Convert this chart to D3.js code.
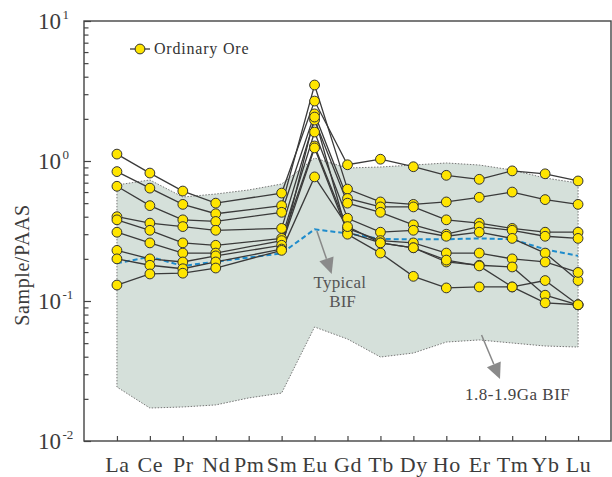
<!DOCTYPE html>
<html>
<head>
<meta charset="utf-8">
<script src="https://cdn.jsdelivr.net/npm/d3@7"></script>
<style>
  body { margin: 0; background: #fff; }
  svg { display: block; }
  svg text { font-family: "Liberation Serif", "Times New Roman", serif; }
</style>
</head>
<body>
<div id="chart"></div>
<script>
// REE on the x axis (Pm has no sample values)
const elements = ["La", "Ce", "Pr", "Nd", "Pm", "Sm", "Eu", "Gd", "Tb", "Dy", "Ho", "Er", "Tm", "Yb", "Lu"];
const sampleElements = ["La", "Ce", "Pr", "Nd", "Sm", "Eu", "Gd", "Tb", "Dy", "Ho", "Er", "Tm", "Yb", "Lu"];

// Ordinary ore, PAAS normalised
const ore1 = [1.12, 0.82, 0.61, 0.50, 0.59, 2.68, 0.94, 1.03, 0.91, 0.79, 0.74, 0.85, 0.81, 0.72];
const ore2 = [0.84, 0.64, 0.49, 0.42, 0.48, 3.49, 0.63, 0.51, 0.49, 0.51, 0.55, 0.60, 0.53, 0.49];
const ore3 = [0.66, 0.48, 0.38, 0.37, 0.43, 2.17, 0.54, 0.47, 0.47, 0.38, 0.36, 0.33, 0.31, 0.31];
const ore4 = [0.40, 0.36, 0.34, 0.32, 0.33, 1.96, 0.50, 0.43, 0.35, 0.30, 0.34, 0.32, 0.29, 0.28];
const ore5 = [0.38, 0.32, 0.26, 0.25, 0.28, 1.61, 0.39, 0.31, 0.32, 0.29, 0.31, 0.28, 0.22, 0.14];
const ore6 = [0.31, 0.26, 0.22, 0.22, 0.27, 1.28, 0.33, 0.27, 0.26, 0.22, 0.22, 0.20, 0.19, 0.16];
const ore7 = [0.23, 0.20, 0.19, 0.21, 0.25, 1.24, 0.31, 0.26, 0.24, 0.19, 0.18, 0.175, 0.11, 0.094];
const ore8 = [0.20, 0.18, 0.17, 0.19, 0.235, 2.06, 0.30, 0.22, 0.15, 0.124, 0.126, 0.126, 0.14, 0.094];
const ore9 = [0.13, 0.156, 0.158, 0.172, 0.23, 0.77, 0.34, 0.26, 0.24, 0.196, 0.178, 0.126, 0.097, 0.094];
const oreSamples = [ore1, ore2, ore3, ore4, ore5, ore6, ore7, ore8, ore9];

// typical BIF (blue dashed)
const typicalBIF = [0.186, 0.207, 0.178, 0.191, 0.219, 0.325, 0.304, 0.277, 0.276, 0.276, 0.280, 0.276, 0.234, 0.210];

// 1.8-1.9 Ga BIF range (all 15 elements)
const bifUpper = [0.674, 0.732, 0.553, 0.581, 0.621, 0.685, 1.05, 0.891, 0.906, 0.936, 0.968, 0.936, 0.862, 0.756, 0.696];
const bifLower = [0.0243, 0.0172, 0.0175, 0.0181, 0.0203, 0.0220, 0.0652, 0.0535, 0.0398, 0.0425, 0.0509, 0.0527, 0.0501, 0.0477, 0.0469];

const yExponents = [-2, -1, 0, 1];

const width = 612, height = 477;
const svg = d3.select("#chart").append("svg")
    .attr("width", width)
    .attr("height", height);

const x = d3.scaleLinear().domain([-1, 15]).range([84, 611]);
const y = d3.scaleLog().domain([0.01, 10]).range([441, 21]);
const xi = name => x(elements.indexOf(name));
const serif = "'Liberation Serif', 'Times New Roman', serif";

// shaded BIF field
const area = d3.area()
    .x((d, i) => x(i))
    .y0((d, i) => y(bifLower[i]))
    .y1(d => y(d));
svg.append("path")
    .datum(bifUpper)
    .attr("d", area)
    .attr("fill", "#d5e0da")
    .attr("stroke", "#777")
    .attr("stroke-width", 1)
    .attr("stroke-dasharray", "1.5,1.5");

// typical BIF
const line = d3.line()
    .x((d, i) => xi(sampleElements[i]))
    .y(d => y(d));
svg.append("path")
    .datum(typicalBIF)
    .attr("d", line)
    .attr("fill", "none")
    .attr("stroke", "#1f8ccc")
    .attr("stroke-width", 2)
    .attr("stroke-dasharray", "5,3");

// sample lines
svg.append("g")
    .selectAll("path")
    .data(oreSamples)
    .enter()
    .append("path")
    .attr("d", line)
    .attr("fill", "none")
    .attr("stroke", "#3a3a3a")
    .attr("stroke-width", 1.3);

// markers
oreSamples.forEach(s => {
    svg.append("g")
        .selectAll("circle")
        .data(s)
        .enter()
        .append("circle")
        .attr("cx", (d, i) => xi(sampleElements[i]))
        .attr("cy", d => y(d))
        .attr("r", 4.9)
        .attr("fill", "#ffe500")
        .attr("stroke", "#333")
        .attr("stroke-width", 1);
});

// arrows
function arrow(from, to) {
    const x1 = x(from[0]), y1 = y(from[1]), x2 = x(to[0]), y2 = y(to[1]);
    const dx = x2 - x1, dy = y2 - y1, len = Math.hypot(dx, dy);
    const ux = dx / len, uy = dy / len;
    const hl = 16, hw = 7.5;
    const bx = x2 - ux * hl, by = y2 - uy * hl;
    svg.append("line")
        .attr("x1", x1).attr("y1", y1).attr("x2", bx).attr("y2", by)
        .attr("stroke", "#888").attr("stroke-width", 1.5);
    svg.append("path")
        .attr("d", `M${x2},${y2}L${bx - uy * hw},${by + ux * hw}L${bx + uy * hw},${by - ux * hw}Z`)
        .attr("fill", "#8a8a8a");
}
arrow([6.07, 0.316], [6.52, 0.156]);
arrow([11.07, 0.0572], [11.63, 0.0277]);

svg.append("text")
    .attr("x", x(6.77)).attr("y", y(0.124))
    .attr("text-anchor", "middle")
    .attr("font-family", serif)
    .attr("font-size", 17).attr("fill", "#555")
    .attr("letter-spacing", 0.3)
    .text("Typical");
svg.append("text")
    .attr("x", x(6.85)).attr("y", y(0.091))
    .attr("text-anchor", "middle")
    .attr("font-family", serif)
    .attr("font-size", 17).attr("fill", "#555")
    .text("BIF");
svg.append("text")
    .attr("x", x(10.57)).attr("y", y(0.0196))
    .attr("font-family", serif)
    .attr("font-size", 17).attr("fill", "#444")
    .attr("letter-spacing", 0.5)
    .text("1.8-1.9Ga BIF");

// axes
const xAxis = d3.axisBottom(x)
    .tickValues(d3.range(elements.length))
    .tickSize(-5)
    .tickPadding(15)
    .tickFormat(i => elements[i]);
const gx = svg.append("g")
    .attr("transform", "translate(0,441)")
    .call(xAxis);
gx.attr("font-family", serif);
gx.select(".domain").remove();
gx.selectAll("line").attr("stroke", "#444").attr("stroke-width", 1.2);
gx.selectAll("text")
    .attr("font-size", 22)
    .attr("letter-spacing", 0.6)
    .attr("fill", "#3c3c3c")
    .attr("font-family", serif);

const minors = [];
for (let e = -2; e < 1; e++) {
    for (let m = 2; m <= 9; m++) minors.push(m * Math.pow(10, e));
}
const gyMinor = svg.append("g")
    .attr("transform", "translate(84,0)")
    .call(d3.axisLeft(y).tickValues(minors).tickSize(-4.5).tickFormat(""));
gyMinor.select(".domain").remove();
gyMinor.selectAll("line").attr("stroke", "#444").attr("stroke-width", 1.2);

const gyMajor = svg.append("g")
    .attr("transform", "translate(84,0)")
    .call(d3.axisLeft(y).tickValues(yExponents.map(e => Math.pow(10, e))).tickSize(-7).tickFormat(""));
gyMajor.select(".domain").remove();
gyMajor.selectAll("line").attr("stroke", "#444").attr("stroke-width", 1.2);

// y tick labels as 10^n
yExponents.forEach(e => {
    const t = svg.append("text")
        .attr("x", 38)
        .attr("y", y(Math.pow(10, e)) + 8)
        .attr("font-family", serif)
        .attr("font-size", 23)
        .attr("fill", "#3c3c3c");
    t.append("tspan").text("10");
    t.append("tspan")
        .attr("dy", -10)
        .attr("dx", 1.5)
        .attr("font-size", 13)
        .text(e);
});

// frame
svg.append("rect")
    .attr("x", 84).attr("y", 21)
    .attr("width", 611 - 84).attr("height", 441 - 21)
    .attr("fill", "none")
    .attr("stroke", "#444")
    .attr("stroke-width", 1.4);

// y label
svg.append("text")
    .attr("transform", "translate(29,265) rotate(-90)")
    .attr("text-anchor", "middle")
    .attr("font-family", serif)
    .attr("font-size", 20)
    .attr("fill", "#3c3c3c")
    .attr("letter-spacing", 0.6)
    .text("Sample/PAAS");

// legend
const lg = svg.append("g").attr("transform", "translate(130,49)");
lg.append("line").attr("x1", 0).attr("x2", 20).attr("stroke", "#3a3a3a").attr("stroke-width", 1.3);
lg.append("circle").attr("cx", 10).attr("r", 4.9).attr("fill", "#ffe500").attr("stroke", "#333");
lg.append("text")
    .attr("x", 24).attr("y", 5)
    .attr("font-family", serif)
    .attr("font-size", 16)
    .attr("fill", "#333")
    .attr("letter-spacing", 0.8)
    .text("Ordinary Ore");
</script>
</body>
</html>
